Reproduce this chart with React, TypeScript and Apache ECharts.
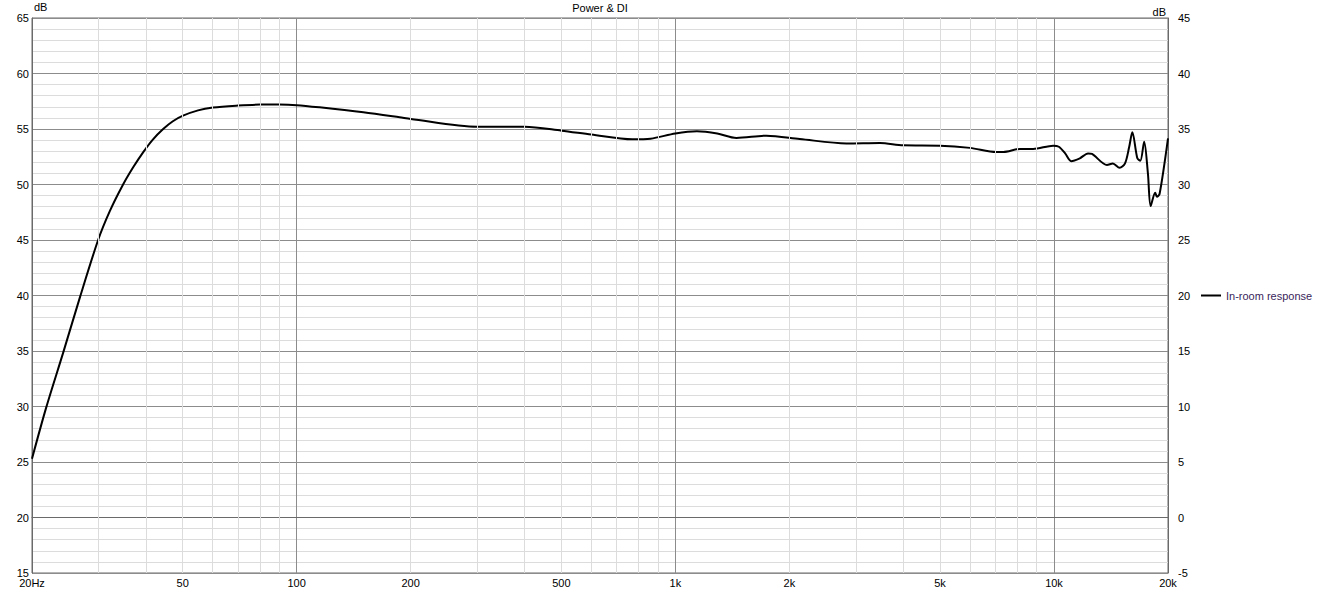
import React, { useEffect, useRef } from "react";
import * as echarts from "echarts";

// Frequency response data (Hz, dB)
const freqs = [
  20, 21.8, 24.2, 26.8, 29.9, 32.1, 34.8, 37, 39.3, 41.7, 44.4, 47.1, 50.1, 54.9, 60.1, 69.2, 80, 90, 100, 115, 150,
  187, 200, 300, 400, 500, 600, 770, 860, 1000, 1140, 1290, 1450, 1740, 2130, 2830, 3470, 4000, 5000, 6000, 7050,
  7350, 8120, 8810, 9950, 10300, 10700, 11100, 11700, 12300, 12600, 13800, 14300, 14900, 15400, 15800, 16100, 16600,
  16900, 17300, 17700, 18000, 18500, 18700, 19000, 20000,
];
const spl = [
  25.3, 29.9, 34.9, 39.9, 45.0, 47.6, 50.0, 51.55, 52.9, 54.05, 55.0, 55.7, 56.2, 56.68, 56.93, 57.1, 57.2, 57.2,
  57.15, 56.95, 56.5, 56.05, 55.9, 55.2, 55.2, 54.85, 54.5, 54.07, 54.13, 54.6, 54.8, 54.6, 54.2, 54.4, 54.1, 53.7,
  53.74, 53.53, 53.5, 53.3, 52.93, 52.93, 53.2, 53.2, 53.5, 53.4, 52.8, 52.1, 52.36, 52.8, 52.75, 51.76, 51.9, 51.5,
  51.9, 53.4, 54.7, 52.36, 52.15, 53.86, 51.0, 48.06, 49.26, 48.9, 49.14, 54.16,
];

const xLabelFreqs = [20, 50, 100, 200, 500, 1000, 2000, 5000, 10000, 20000];
const xLabelTexts = ["20Hz", "50", "100", "200", "500", "1k", "2k", "5k", "10k", "20k"];
const minorFreqs = [
  30, 40, 50, 60, 70, 80, 90, 200, 300, 400, 500, 600, 700, 800, 900, 2000, 3000, 4000, 5000, 6000, 7000, 8000, 9000,
];

const seriesName = "In-room response";
const titleText = "Power & DI";
const FONT = "'Liberation Sans', Arial, sans-serif";

export default function App() {
  const ref = useRef<HTMLDivElement>(null);
  useEffect(() => {
    if (!ref.current) return;
    const chart = echarts.init(ref.current, null, { renderer: "svg" });
    const major = "#8c8c8c";
    const minor = "#dcdcdc";
    const border = "#6a6a6a";
    chart.setOption({
      animation: false,
      backgroundColor: "#fff",
      textStyle: { fontFamily: FONT },
      title: {
        text: titleText,
        left: 600,
        top: 2,
        textAlign: "center",
        padding: 0,
        textStyle: { fontSize: 11, fontWeight: "normal", color: "#000", fontFamily: FONT },
      },
      legend: {
        data: [seriesName],
        left: 1201,
        top: 290,
        padding: 0,
        icon: "rect",
        itemWidth: 20,
        itemHeight: 2,
        itemGap: 4,
        textStyle: { fontSize: 11, color: "#3a1f5c", fontFamily: FONT, padding: [0, 0, 0, 0] },
      },
      grid: {
        left: 32,
        right: 152,
        top: 18,
        bottom: 19,
        show: true,
        borderColor: border,
        borderWidth: 1,
        backgroundColor: "transparent",
      },
      xAxis: [
        {
          type: "log",
          logBase: 10,
          min: 20,
          max: 20000,
          z: 2,
          axisLine: { show: true, lineStyle: { color: border, width: 1 } },
          axisTick: { show: false },
          axisLabel: { show: false },
          splitLine: { show: true, lineStyle: { color: major, width: 1 } },
        },
      ],
      yAxis: [
        {
          type: "value",
          min: 15,
          max: 65,
          interval: 5,
          position: "left",
          z: 2,
          name: "dB",
          nameLocation: "end",
          nameGap: 1,
          nameTextStyle: { fontSize: 11, color: "#000", align: "left", verticalAlign: "bottom", padding: [0, 0, 0, 2], fontFamily: FONT },
          axisLine: { show: true, lineStyle: { color: border, width: 1 } },
          axisTick: { show: false },
          axisLabel: { margin: 3, fontSize: 11, color: "#000", fontFamily: FONT },
          splitLine: { show: true, lineStyle: { color: major, width: 1 } },
        },
        {
          type: "value",
          min: -5,
          max: 45,
          interval: 5,
          position: "right",
          z: 2,
          name: "dB",
          nameLocation: "end",
          nameGap: 1,
          nameTextStyle: { fontSize: 11, color: "#000", align: "right", verticalAlign: "bottom", padding: [0, 2, 0, 0], fontFamily: FONT },
          axisLine: { show: true, lineStyle: { color: border, width: 1 } },
          axisTick: { show: false },
          axisLabel: { margin: 10, fontSize: 11, color: "#000", fontFamily: FONT },
          splitLine: { show: false },
        },
        {
          type: "value",
          min: 15,
          max: 65,
          interval: 1,
          position: "left",
          z: 0,
          axisLine: { show: false },
          axisTick: { show: false },
          axisLabel: { show: false },
          splitLine: { show: true, lineStyle: { color: minor, width: 1 } },
        },
      ],
      series: [
        {
          name: "minor-grid",
          type: "line",
          data: [],
          xAxisIndex: 0,
          yAxisIndex: 0,
          z: 1,
          silent: true,
          markLine: {
            silent: true,
            symbol: ["none", "none"],
            label: { show: false },
            lineStyle: { color: minor, width: 1, type: "solid" },
            emphasis: { disabled: true },
            data: minorFreqs.map((f) => ({ xAxis: f })),
          },
        },
        {
          name: "x-labels",
          type: "line",
          data: [],
          xAxisIndex: 0,
          yAxisIndex: 0,
          z: 1,
          silent: true,
          markLine: {
            silent: true,
            symbol: ["none", "none"],
            lineStyle: { color: "rgba(0,0,0,0)", width: 1, type: "solid" },
            label: {
              show: true,
              position: "start",
              distance: 4,
              fontSize: 11,
              color: "#000",
              fontFamily: FONT,
              formatter: "{b}",
            },
            emphasis: { disabled: true },
            data: xLabelFreqs.map((f, i) => ({ xAxis: f, name: xLabelTexts[i] })),
          },
        },
        {
          name: seriesName,
          type: "line",
          xAxisIndex: 0,
          yAxisIndex: 0,
          z: 3,
          data: freqs.map((f, i) => [f, spl[i]]),
          showSymbol: false,
          smooth: 0.3,
          color: "#000",
          lineStyle: { color: "#000", width: 2 },
        },
      ],
    });
    return () => chart.dispose();
  }, []);
  return (
    <div
      ref={ref}
      style={{ position: "fixed", left: 0, top: 0, width: 1320, height: 592 }}
    />
  );
}
